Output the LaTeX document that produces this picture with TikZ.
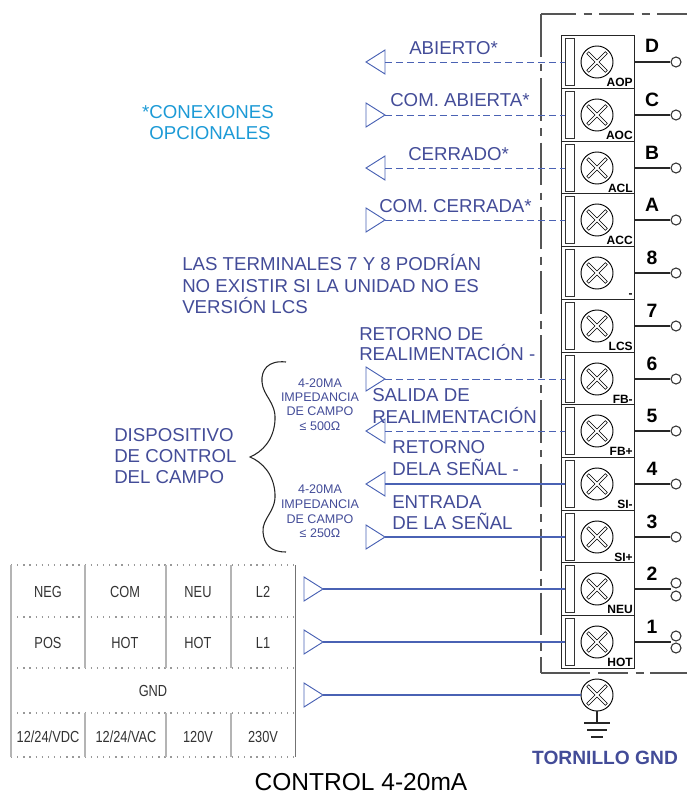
\documentclass[tikz,border=0pt]{standalone}
\usepackage{fontspec}
\setmainfont{Liberation Sans}
\newfontfamily\narrowf[FakeStretch=0.8]{Liberation Sans}
\definecolor{txtblue}{HTML}{434C98}
\definecolor{wireblue}{HTML}{4A62B4}
\definecolor{cyantxt}{HTML}{1C9AD6}
\definecolor{framegray}{HTML}{555555}
\definecolor{cellgray}{HTML}{B4B4B4}
\newcommand{\arrL}[1]{\draw[tri] (#1) -- ++(0,-12) -- ++(-19,12) -- ++(19,12) -- cycle;}
\newcommand{\arrR}[1]{\draw[tri] (#1) -- ++(-19,-12) -- ++(0,24) -- cycle;}
\tikzset{
  lab/.style={anchor=base west,inner sep=0,yshift=-0.75pt,text=txtblue,font=\fontsize{14pt}{16pt}\selectfont},
  small/.style={anchor=base,inner sep=0,text=txtblue,font=\fontsize{9.4pt}{11pt}\selectfont},
  cell/.style={anchor=base,inner sep=0,text=black!80,font=\narrowf\fontsize{12pt}{14pt}\selectfont},
  termbox/.style={draw=black!85,line width=0.9pt,fill=white,minimum width=54.4pt,minimum height=39.6pt,inner sep=0},
  slotbox/.style={draw=black!80,line width=0.7pt,fill=white,minimum width=6.5pt,minimum height=35pt,inner sep=0},
  screw/.style={draw=black,line width=0.7pt,circle,minimum size=24pt,inner sep=0,fill=white},
  tagtxt/.style={anchor=base east,inner sep=0,font=\bfseries\fontsize{9pt}{10pt}\selectfont},
  numtxt/.style={anchor=base,inner sep=0,font=\bfseries\fontsize{14.5pt}{16pt}\selectfont},
  pin/.style={draw=black!80,line width=0.8pt,circle,minimum size=7.5pt,inner sep=0,fill=white},
  wire/.style={draw=black!85,line width=0.8pt},
  dashw/.style={draw=wireblue,line width=0.7pt,dash pattern=on 5.3pt off 2.9pt},
  solidw/.style={draw=wireblue,line width=0.9pt},
  tri/.style={draw=wireblue,line width=0.7pt,line join=miter},
  brace/.style={draw=black!85,line width=0.8pt},
  gridv/.style={draw=cellgray,line width=1pt},
  gridh/.style={draw=black!40,line width=1pt,dash pattern=on 1pt off 3.6pt},
  framel/.style={draw=framegray,line width=0.9pt}
}
\newcommand{\xmark}[1]{%
  \draw[black,line width=2.6pt] ($(#1)+(-9.5,-9.5)$) -- ($(#1)+(9.5,9.5)$) ($(#1)+(-9.5,9.5)$) -- ($(#1)+(9.5,-9.5)$);
  \draw[white,line width=1.4pt] ($(#1)+(-9,-9)$) -- ($(#1)+(9,9)$) ($(#1)+(-9,9)$) -- ($(#1)+(9,-9)$);}
\usetikzlibrary{calc}
\begin{document}
\begin{tikzpicture}[x=0.75pt,y=-0.75pt]
\useasboundingbox (0,0) rectangle (687,792);

% frame
\coordinate (fa) at (687,14); \coordinate (fb) at (541,14);
\coordinate (fc) at (541,673); \coordinate (fd) at (687,673);
\draw[framel,dash pattern=on 26pt off 6pt on 6pt off 5.5pt] (fb) -- (fa);
\draw[framel,dash pattern=on 32pt off 5.5pt on 5.5pt off 5pt on 32pt off 5.5pt on 6pt off 5pt] (fb) -- (fc);
\draw[framel,dash pattern=on 37pt off 6pt on 22pt off 6pt on 6pt off 5pt] (fc) -- (fd);

% terminals
\foreach \i/\yy/\tg/\nm in {1/62/AOP/D,2/115/AOC/C,3/168/ACL/B,4/220/ACC/A,5/273/-/8,6/326/LCS/7,7/379/FB-/6,8/431/FB+/5,9/484/SI-/4,10/537/SI+/3,11/589/NEU/2,12/642/HOT/1}{
  \node[termbox] (T\i) at (598,\yy) {};
  \node[slotbox] (S\i) at (570,\yy) {};
  \node[screw] (X\i) at (597,\yy) {};
  \xmark{X\i}
  \node[tagtxt] (G\i) at (633,\yy+24) {\tg};
  \node[numtxt] (N\i) at (652,\yy-9) {\nm};
}
% output wires and pins
\foreach \i/\yy in {1/62,2/115,3/168,4/220,5/273,6/326,7/379,8/431,9/484,10/537}{
  \node[pin] (P\i) at (676,\yy) {};
  \draw[wire] (T\i.east) -- (P\i.west);
}
\node[pin] (P11) at (676,583) {};
\node[pin] (P11b) at (676,596) {};
\node[pin] (P12) at (676,636) {};
\node[pin] (P12b) at (676,648) {};
\coordinate (J11) at (671,589); \coordinate (J12) at (671,642);
\draw[wire] (T11.east) -- (J11);
\draw[wire] (T12.east) -- (J12);

% arrows
\foreach \i/\yy in {1/62,3/168,8/431}{ \coordinate (A\i) at (385,\yy); \arrL{A\i} \draw[dashw] (A\i) -- (S\i.west); }
\foreach \i/\yy in {2/115,4/220,7/379}{ \coordinate (A\i) at (385,\yy); \arrR{A\i} \draw[dashw] (A\i) -- (S\i.west); }
\coordinate (A9) at (385,484); \arrL{A9} \draw[solidw] (A9) -- (S9.west);
\coordinate (A10) at (385,537); \arrR{A10} \draw[solidw] (A10) -- (S10.west);
\coordinate (A11) at (323,589); \arrR{A11} \draw[solidw] (A11) -- (S11.west);
\coordinate (A12) at (323,642); \arrR{A12} \draw[solidw] (A12) -- (S12.west);

% ground
\node[screw] (XG) at (597,695) {};
\xmark{XG}
\coordinate (A13) at (323,695); \arrR{A13} \draw[solidw] (A13) -- (XG.west);
\coordinate (GA) at (597,723); \coordinate (GB) at (597,730); \coordinate (GC) at (597,737);
\draw[wire] (XG.south) -- (GA);
\draw[wire] ($(GA)+(-13,0)$) -- ($(GA)+(13,0)$);
\draw[wire] ($(GB)+(-10,0)$) -- ($(GB)+(10,0)$);
\draw[wire] ($(GC)+(-6,0)$) -- ($(GC)+(6,0)$);

% labels
\node[lab] (l1) at (409,54) {ABIERTO*};
\node[lab] (l2) at (390,106) {COM. ABIERTA*};
\node[lab] (l3) at (408,159) {CERRADO*};
\node[lab] (l4) at (379,211) {COM. CERRADA*};
\node[lab,anchor=base,text=cyantxt] (c1) at (208,117) {*CONEXIONES};
\node[lab,anchor=base,text=cyantxt] (c2) at (210,138) {OPCIONALES};
\node[lab] (n1) at (182,269) {LAS TERMINALES 7 Y 8 PODRÍAN};
\node[lab] (n2) at (182,291) {NO EXISTIR SI LA UNIDAD NO ES};
\node[lab] (n3) at (182,312) {VERSIÓN LCS};
\node[lab] (r1) at (359,339) {RETORNO DE};
\node[lab] (r2) at (359,359) {REALIMENTACIÓN -};
\node[lab] (s1) at (372,400) {SALIDA DE};
\node[lab] (s2) at (372,422) {REALIMENTACIÓN};
\node[lab] (d1) at (392,452) {RETORNO};
\node[lab] (d2) at (392,474) {DELA SEÑAL -};
\node[lab] (e1) at (392,507) {ENTRADA};
\node[lab] (e2) at (392,528) {DE LA SEÑAL};
\node[lab] (f1) at (114,440) {DISPOSITIVO};
\node[lab] (f2) at (114,461) {DE CONTROL};
\node[lab] (f3) at (114,482) {DEL CAMPO};
\node[small] (a1) at (320,387) {4-20MA};
\node[small] (a2) at (320,401) {IMPEDANCIA};
\node[small] (a3) at (320,415) {DE CAMPO};
\node[small] (a4) at (320,430) {≤ 500Ω};
\node[small] (b1) at (320,493) {4-20MA};
\node[small] (b2) at (320,508) {IMPEDANCIA};
\node[small] (b3) at (320,523) {DE CAMPO};
\node[small] (b4) at (320,537) {≤ 250Ω};

% brace
\coordinate (bt) at (286,362); \coordinate (bm) at (250,457); \coordinate (bb) at (286,552);
\draw[brace] (bt) .. controls (268,360) and (261,370) .. (262,382)
  .. controls (263,396) and (276,402) .. (275,420)
  .. controls (274,440) and (262,452) .. (bm)
  .. controls (262,462) and (274,474) .. (275,494)
  .. controls (276,512) and (262,518) .. (263,532)
  .. controls (264,544) and (270,552) .. (bb);

% table
\foreach \yy in {565,617,668,713,757}{ \draw[gridh] (11,\yy) -- (295,\yy); }
\draw[gridv] (11,565) -- (11,757);
\draw[gridv] (85,565) -- (85,668);
\draw[gridv] (166,565) -- (166,668);
\draw[gridv] (231,565) -- (231,668);
\draw[gridv] (85,713) -- (85,757);
\draw[gridv] (166,713) -- (166,757);
\draw[gridv] (231,713) -- (231,757);
\draw[gridv,line width=0.7pt,draw=black!55] (295,565) -- (295,757);
\node[cell] (k1) at (48,597) {NEG};
\node[cell] (k2) at (125,597) {COM};
\node[cell] (k3) at (198,597) {NEU};
\node[cell] (k4) at (263,597) {L2};
\node[cell] (k5) at (48,648) {POS};
\node[cell] (k6) at (125,648) {HOT};
\node[cell] (k7) at (198,648) {HOT};
\node[cell] (k8) at (263,648) {L1};
\node[cell] (k9) at (153,696) {GND};
\node[cell] (k10) at (48,742) {12/24/VDC};
\node[cell] (k11) at (126,742) {12/24/VAC};
\node[cell] (k12) at (198,742) {120V};
\node[cell] (k13) at (263,742) {230V};

% captions
\node[anchor=base,inner sep=0,text=txtblue,font=\bfseries\fontsize{14.4pt}{16pt}\selectfont] (tg) at (605,764) {TORNILLO GND};
\node[anchor=base,inner sep=0,text=black,font=\fontsize{18.4pt}{20pt}\selectfont] (cap) at (361,790) {CONTROL 4-20mA};
\end{tikzpicture}
\end{document}
